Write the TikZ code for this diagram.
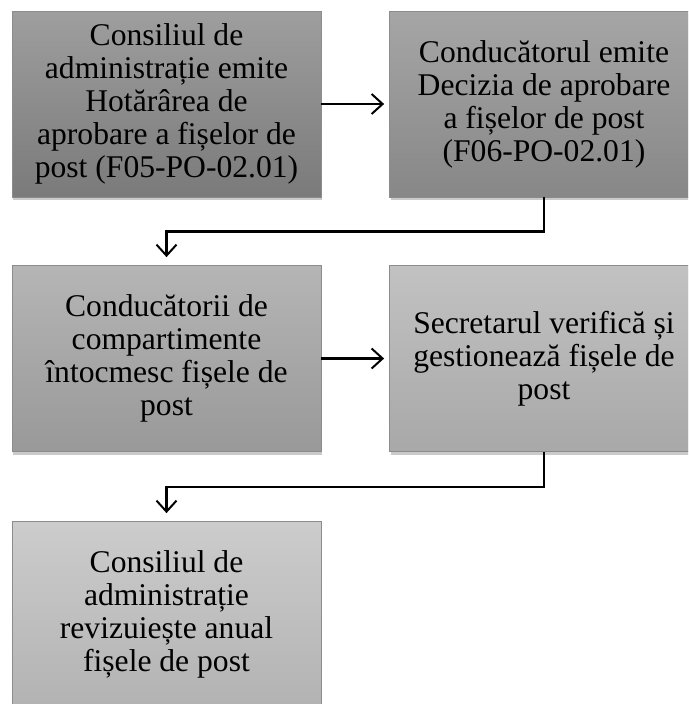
\documentclass[tikz,border=0pt]{standalone}
\usepackage{fontspec}
\setmainfont{Liberation Serif}
\usetikzlibrary{arrows.meta,shadows}
\begin{document}
\begin{tikzpicture}[x=1pt,y=-1pt,
  stepbox/.style={draw=black!45, line width=0.8pt, minimum width=309pt, minimum height=186pt,
    inner sep=0pt, align=center, text=black,
    font=\fontsize{31.6}{33}\selectfont,
    shading=axis, shading angle=0,
    drop shadow={shadow xshift=1pt, shadow yshift=-3pt, opacity=0.35, fill=black!60}},
  conn/.style={line width=2.3pt, -{Straight Barb[length=11pt,width=20pt,line width=2pt]}}
]
\useasboundingbox (0,0) rectangle (688,704);
\clip (0,0) rectangle (688,704);
\node[stepbox, top color=black!38, bottom color=black!52] (b1) at (166.5,104)
  {Consiliul de\\administrație emite\\Hotărârea de\\aprobare a fișelor de\\post (F05-PO-02.01)};
\node[stepbox, top color=black!35, bottom color=black!47] (b2) at (544,104)
  {Conducătorul emite\\Decizia de aprobare\\a fișelor de post\\(F06-PO-02.01)};
\node[stepbox, top color=black!29, bottom color=black!40] (b3) at (166.5,358.5)
  {Conducătorii de\\compartimente\\întocmesc fișele de\\post};
\node[stepbox, top color=black!24, bottom color=black!34] (b4) at (544,358.5)
  {Secretarul verifică și\\gestionează fișele de\\post};
\node[stepbox, top color=black!20, bottom color=black!30] (b5) at (166.5,614.5)
  {Consiliul de\\administrație\\revizuiește anual\\fișele de post};
\draw[conn, shorten >=5pt] (b1.east) -- (b2.west);
\draw[conn, shorten >=5pt] (b3.east) -- (b4.west);
\draw[conn, shorten >=8pt] (b2.south) -- ++(0,34) -| (b3.north);
\draw[conn, shorten >=8pt] (b4.south) -- ++(0,35) -| (b5.north);
\end{tikzpicture}
\end{document}
